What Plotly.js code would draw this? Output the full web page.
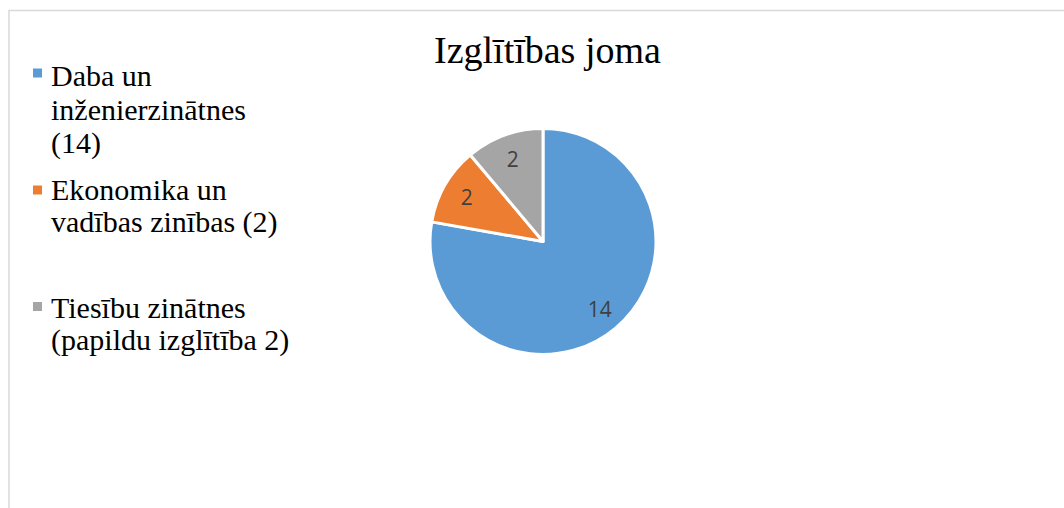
<!DOCTYPE html>
<html><head><meta charset="utf-8">
<script src="https://cdn.plot.ly/plotly-3.0.1.min.js"></script>
<style>html,body{margin:0;padding:0;background:#fff}#chart{width:1064px;height:508px}</style>
</head><body><div id="chart"></div>
<script>
const categories = ["Daba un inženierzinātnes", "Ekonomika un vadības zinības", "Tiesību zinātnes (papildu izglītība)"];
const values = [14, 2, 2];
const colors = ["#5B9BD5", "#ED7D31", "#A5A5A5"];
const legendLines = [
  ["Daba un", "inženierzinātnes", "(14)"],
  ["Ekonomika un", "vadības zinības (2)"],
  ["Tiesību zinātnes", "(papildu izglītība 2)"]
];
const titleText = "Izglītības joma";

const W = 1064, H = 508;
const px = x => x / W, py = y => 1 - y / H;
const serif = '"Liberation Serif", "Times New Roman", serif';

const entryMid = [76, 189, 307];
const markerMid = [73, 190, 306.5];
const lineGap = 33.3;
const annotations = [];
const shapes = [];
legendLines.forEach((lines, i) => {
  lines.forEach((t, j) => {
    annotations.push({
      text: t, xref: 'paper', yref: 'paper', x: px(49), y: py(entryMid[i] + j * lineGap),
      xanchor: 'left', yanchor: 'middle', showarrow: false,
      font: {family: serif, size: 30, color: '#000'}
    });
  });
  const cy = markerMid[i];
  shapes.push({type: 'rect', xref: 'paper', yref: 'paper',
    x0: px(33), x1: px(42), y0: py(cy + 4.5), y1: py(cy - 4.5),
    fillcolor: colors[i], line: {width: 0}});
});
shapes.push({type: 'path', xref: 'paper', yref: 'paper',
  path: `M ${px(9)} 0 L ${px(9)} ${py(10.5)} L 1 ${py(10.5)}`,
  line: {color: '#d9d9d9', width: 1.5}});

annotations.push({
  text: titleText, xref: 'paper', yref: 'paper', x: px(547), y: py(50),
  xanchor: 'center', yanchor: 'middle', showarrow: false,
  font: {family: serif, size: 38, color: '#000'}
});

const labelFont = {family: '"Open Sans", "Liberation Sans", Arial, sans-serif', size: 21, color: '#404040'};
const dom = {x: [px(430), px(656)], y: [py(355), py(128)]};
const data = [{
  type: 'pie', values: values, labels: categories, sort: false,
  direction: 'clockwise', rotation: 0,
  marker: {colors: colors, line: {color: '#fff', width: 3}},
  textinfo: 'none', domain: dom, showlegend: false, hoverinfo: 'label+value'
}, {
  type: 'pie', values: values, labels: categories, sort: false,
  direction: 'clockwise', rotation: 0, hole: 0.56,
  marker: {colors: ['rgba(0,0,0,0)', 'rgba(0,0,0,0)', 'rgba(0,0,0,0)'], line: {width: 0}},
  textinfo: 'value', textposition: 'inside', insidetextorientation: 'horizontal',
  textfont: labelFont, insidetextfont: labelFont,
  domain: dom, showlegend: false, hoverinfo: 'skip'
}];

const layout = {
  width: W, height: H, margin: {l: 0, r: 0, t: 0, b: 0},
  paper_bgcolor: '#fff', plot_bgcolor: '#fff',
  showlegend: false, annotations: annotations, shapes: shapes
};
Plotly.newPlot('chart', data, layout, {displayModeBar: false, staticPlot: true});
</script></body></html>
